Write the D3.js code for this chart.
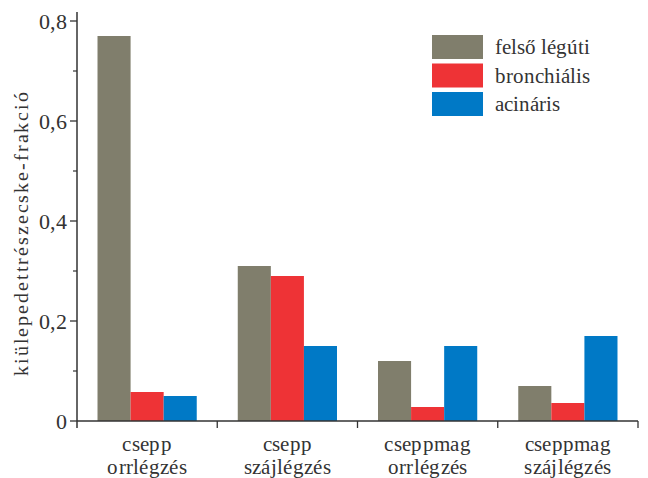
<!DOCTYPE html>
<html><head><meta charset="utf-8">
<script src="https://cdn.jsdelivr.net/npm/d3@7"></script>
<style>
@font-face{font-family:"GSerif";src:local("Liberation Serif"),local("LiberationSerif"),local("LiberationSerif-Regular"),local("Tinos");}
</style>
</head><body>
<script>
const categories = [["csepp","orrlégzés"],["csepp","szájlégzés"],["cseppmag","orrlégzés"],["cseppmag","szájlégzés"]];
const seriesNames = ["felső légúti","bronchiális","acináris"];
const felso = [0.77, 0.31, 0.12, 0.07];
const bronch = [0.058, 0.29, 0.028, 0.036];
const acinar = [0.05, 0.15, 0.15, 0.17];
const yTicks = [0, 0.2, 0.4, 0.6, 0.8];
const yTickLabels = ["0","0,2","0,4","0,6","0,8"];
const yMinor = [0.1, 0.3, 0.5, 0.7];
const colors = ["#807e6c","#ee3336","#0079c6"];
const series = [felso, bronch, acinar];

d3.select("body").style("margin","0").style("background","#fff");
const FONT = "GSerif, Liberation Serif, Tinos, Times New Roman, serif";
const W=648,H=478, L=77, R=638, T=21, B=421;
const svg=d3.select("body").append("svg").attr("width",W).attr("height",H).style("display","block")
  .attr("font-family",FONT);
const x=d3.scaleBand().domain(d3.range(categories.length)).range([L,R]).paddingInner(0).paddingOuter(0);
const x1=d3.scaleBand().domain(d3.range(3)).range([0,x.bandwidth()]).paddingOuter(0.62).paddingInner(0);
const y=d3.scaleLinear().domain([0,0.8]).range([B,T]);

categories.forEach((c,i)=>{
  series.forEach((s,j)=>{
    svg.append("rect").attr("x",x(i)+x1(j)).attr("width",x1.bandwidth())
      .attr("y",y(s[i])).attr("height",B-y(s[i])).attr("fill",colors[j]);
  });
});

const ax="#333", tc="#333";
function txt(){ return svg.append("text").attr("font-family",FONT).attr("fill",tc); }
svg.append("line").attr("x1",L).attr("x2",L).attr("y1",12).attr("y2",428).attr("stroke",ax).attr("stroke-width",1.5);
yTicks.forEach((v,i)=>{
  svg.append("line").attr("x1",L-7).attr("x2",L).attr("y1",y(v)).attr("y2",y(v)).attr("stroke",ax).attr("stroke-width",1.3);
  txt().attr("x",L-10).attr("y",y(v)).attr("dy","0.35em").attr("text-anchor","end").attr("font-size",22).text(yTickLabels[i]);
});
yMinor.forEach(v=>{
  svg.append("line").attr("x1",L-4).attr("x2",L).attr("y1",y(v)).attr("y2",y(v)).attr("stroke",ax).attr("stroke-width",1.2);
});
svg.append("line").attr("x1",L).attr("x2",R).attr("y1",B).attr("y2",B).attr("stroke",ax).attr("stroke-width",1.5);
categories.forEach((c,i)=>{
  svg.append("line").attr("x1",x(i)+x.bandwidth()).attr("x2",x(i)+x.bandwidth()).attr("y1",B).attr("y2",B+7).attr("stroke",ax).attr("stroke-width",1.3);
  const cx=x(i)+x.bandwidth()/2;
  txt().attr("x",cx).attr("y",451).attr("text-anchor","middle").attr("font-size",21).attr("letter-spacing",0.3).text(c[0]);
  txt().attr("x",cx).attr("y",474).attr("text-anchor","middle").attr("font-size",21).attr("letter-spacing",0.3).text(c[1]);
});
txt().attr("transform","translate(28,234) rotate(-90)").attr("text-anchor","middle").attr("font-size",20)
  .attr("textLength",284).attr("lengthAdjust","spacing").text("kiülepedettrészecske-frakció");

seriesNames.forEach((n,j)=>{
  const ly=35+j*28.5;
  svg.append("rect").attr("x",432).attr("y",ly).attr("width",51).attr("height",24).attr("fill",colors[j]);
  txt().attr("x",495).attr("y",ly+12).attr("dy","0.35em").attr("font-size",21).text(n);
});
</script>
</body></html>
